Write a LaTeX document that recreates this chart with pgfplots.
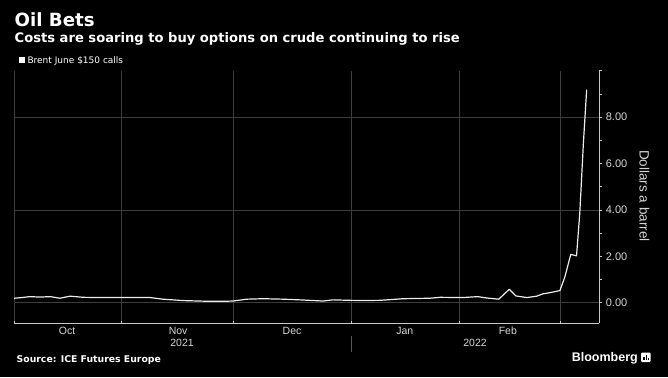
\documentclass[border=0pt]{standalone}
\usepackage{pgfplots}
\pgfplotsset{compat=1.18}
\usepackage{fontspec}
\setmainfont{Liberation Sans}
\newfontfamily\dejavu{DejaVu Sans}
\definecolor{gridc}{HTML}{3C3C3C}
\definecolor{sepc}{HTML}{555555}
\definecolor{axisc}{HTML}{C8C8C8}
\definecolor{labc}{HTML}{D6D6D6}
\definecolor{linec}{HTML}{EDEDED}
\begin{document}
\begin{tikzpicture}[x=1pt,y=1pt]
\fill[black] (0,0) rectangle (668,377);
\useasboundingbox (0,0) rectangle (668,377);
\begin{axis}[
  at={(14pt,53.7pt)}, anchor=south west,
  scale only axis, width=585.3pt, height=252.6pt,
  xmin=0, xmax=161.9, ymin=-0.89, ymax=10,
  axis x line*=bottom, axis y line*=right,
  axis line style={axisc, line width=0.6pt},
  tick align=outside,
  major tick length=3pt, minor tick length=3pt,
  tick style={axisc, line width=0.6pt},
  xtick style={yshift=2.5pt},
  xtick={0,29.8,60.6,93.4,123.1,151},
  xticklabels={},
  xmajorgrids,
  major x grid style={gridc, line width=0.5pt},
  extra x ticks={14.7,45.4,76.9,108.1,136.6},
  extra x tick labels={Oct,Nov,Dec,Jan,Feb},
  extra x tick style={major tick length=0pt, grid=none,
     tick label style={labc, font=\fontsize{10.5}{10.5}\selectfont, yshift=0pt}},
  ytick={0,2,4,6,8},
  minor ytick={1,3,5,7,9,10},
  yticklabel style={labc, font=\fontsize{11}{11}\selectfont},
  /pgf/number format/.cd, fixed, fixed zerofill, precision=2, assume math mode=true,
]
\pgfplotsinvokeforeach{0,4,8}{
  \draw[gridc, line width=0.5pt] (axis cs:0,#1) -- (axis cs:161.9,#1);
}
\addplot[linec, line width=1.2pt, line join=round] coordinates {
(0,0.19) (2.2,0.22) (4.4,0.26) (7.2,0.24) (10.0,0.26) (12.7,0.19) (15.5,0.28)
(19.1,0.23) (23.8,0.22) (29.9,0.22) (37.6,0.22) (41.2,0.15) (46.7,0.09)
(53.4,0.06) (58.4,0.06) (60.6,0.07) (64.4,0.15) (68.9,0.17) (74.4,0.15)
(79.1,0.12) (85.5,0.07) (88.2,0.12) (92.9,0.10) (96.5,0.09) (101.2,0.10)
(105.9,0.15) (107.6,0.17) (115.0,0.19) (117.8,0.23) (124.2,0.22) (128.3,0.26)
(130.8,0.20) (134.1,0.15) (137.0,0.58) (138.8,0.29) (141.9,0.22) (144.6,0.28)
(146.3,0.38) (148.2,0.43) (151.0,0.52) (152.4,1.12) (154.0,2.08) (155.6,2.02)
(156.5,3.86) (157.5,6.88) (158.4,9.18)
};
\end{axis}
% titles
\node[anchor=base west, inner sep=0, text=white, font=\dejavu\bfseries\fontsize{18.2}{18.2}\selectfont] at (14.5,350.3) {Oil Bets};
\node[anchor=base west, inner sep=0, text=white, font=\dejavu\bfseries\fontsize{13.1}{13.1}\selectfont] at (14.5,334.3) {Costs are soaring to buy options on crude continuing to rise};
% legend
\fill[white] (19.3,314.3) rectangle (25,319.7);
\node[anchor=base west, inner sep=0, text=white, font=\dejavu\fontsize{9}{9}\selectfont] at (27.3,313.7) {Brent June \$150 calls};
% y label
\node[rotate=-90, text=labc, font=\fontsize{13.5}{13.5}\selectfont] at (644.5,181) {Dollars a barrel};
% years
\node[text=labc, font=\fontsize{10.5}{10.5}\selectfont] at (182,33.7) {2021};
\node[text=labc, font=\fontsize{10.5}{10.5}\selectfont] at (475,33.7) {2022};
\draw[sepc, line width=0.6pt] (351.7,40.7) -- (351.7,25.3);
% source
\node[anchor=base west, inner sep=0, text=white, font=\dejavu\bfseries\fontsize{9.3}{9.3}\selectfont] at (16.5,15) {Source: ICE Futures Europe};
\node[anchor=base east, inner sep=0, text=white, font=\bfseries\fontsize{12.5}{12.5}\selectfont] at (638,15.5) {Bloomberg};
\fill[white, rounded corners=1pt] (641,15) rectangle (650.5,24.5);
\fill[black] (643,17) rectangle (644.5,20);
\fill[black] (645.5,17) rectangle (647,22);
\fill[black] (648,17) rectangle (649,19);
\end{tikzpicture}
\end{document}
